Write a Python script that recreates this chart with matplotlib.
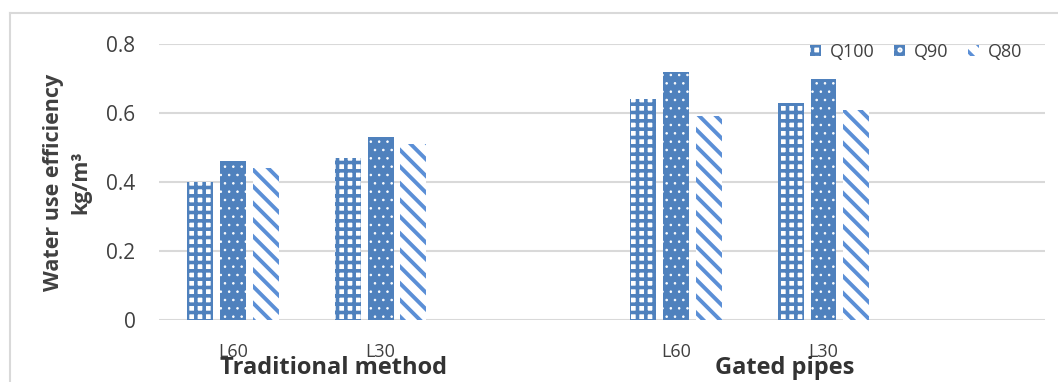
import matplotlib
matplotlib.use("Agg")
import matplotlib.pyplot as plt
import numpy as np
from matplotlib.lines import Line2D

# water use efficiency (kg/m3); blank slots separate the two irrigation systems
categories = ["L60", "L30", "", "L60", "L30", ""]
q100 = [0.40, 0.47, np.nan, 0.64, 0.63, np.nan]
q90 = [0.46, 0.53, np.nan, 0.72, 0.70, np.nan]
q80 = [0.44, 0.51, np.nan, 0.59, 0.61, np.nan]
series_names = ["Q100", "Q90", "Q80"]
groups = ["Traditional method", "Gated pipes"]
group_pos = [0.68, 3.74]
yticks = [0, 0.2, 0.4, 0.6, 0.8]

BLUE = "#4F81BD"
LIGHT_BLUE = "#5B8FD6"
GRID = "#D9D9D9"
TEXT = "#404040"


def main():
    plt.rcParams["font.family"] = ["Open Sans", "DejaVu Sans"]
    plt.rcParams["hatch.linewidth"] = 2.5

    fig = plt.figure(figsize=(10.58, 3.82), dpi=100)
    ax = fig.add_axes([0.1503, 0.1623, 0.8374, 0.7225])

    x = np.arange(len(categories))
    w = 0.176
    step = 0.223
    # hatch line width is picked up when each bar set is created
    with plt.rc_context({"hatch.linewidth": 2.6}):
        ax.bar(x - step, q100, w, facecolor="white", edgecolor=BLUE, hatch="++",
               linewidth=0, label=series_names[0])
    with plt.rc_context({"hatch.linewidth": 0.6}):
        ax.bar(x, q90, w, facecolor=BLUE, edgecolor="white", hatch="..",
               linewidth=0, label=series_names[1])
    with plt.rc_context({"hatch.linewidth": 2.8}):
        ax.bar(x + step, q80, w, facecolor="white", edgecolor=LIGHT_BLUE,
               hatch="\\\\", linewidth=0, label=series_names[2])

    ax.set_xlim(-0.5, len(categories) - 0.5)
    ax.set_ylim(0, 0.8)
    ax.set_yticks(yticks)
    ax.set_yticklabels([f"{v:g}" for v in yticks])
    ax.set_xticks(x)
    ax.set_xticklabels(categories)
    ax.tick_params(axis="y", length=0, pad=17, labelsize=15, labelcolor=TEXT)
    ax.tick_params(axis="x", length=0, pad=16.5, labelsize=13, labelcolor=TEXT)
    ax.grid(axis="y", color=GRID, linewidth=1.5)
    ax.set_axisbelow(True)
    for s in ax.spines.values():
        s.set_visible(False)

    for name, gx in zip(groups, group_pos):
        ax.text(gx, -0.175, name, transform=ax.get_xaxis_transform(),
                ha="center", va="center", fontsize=17, fontweight="bold",
                color="#333333")

    fig.text(0.0633, 0.5236, "Water use efficiency\nkg/m\u00b3", rotation=90,
             ha="center", va="center", multialignment="center", linespacing=1.4,
             fontsize=15.5, fontweight="bold", color=TEXT)

    ax.legend(loc="center right", bbox_to_anchor=(0.985, 0.971), ncol=3,
              frameon=False, fontsize=13, borderpad=0, handlelength=0.6,
              handleheight=0.6, handletextpad=0.5, columnspacing=1.1,
              labelcolor=TEXT)

    # chart area border (left and top edges)
    fig.add_artist(Line2D([0.00945, 0.00945], [0, 0.966], color=GRID, lw=1.5,
                          transform=fig.transFigure))
    fig.add_artist(Line2D([0.00945, 1], [0.966, 0.966], color=GRID, lw=1.5,
                          transform=fig.transFigure))

    fig.savefig("out.png", dpi=100)


if __name__ == "__main__":
    main()
